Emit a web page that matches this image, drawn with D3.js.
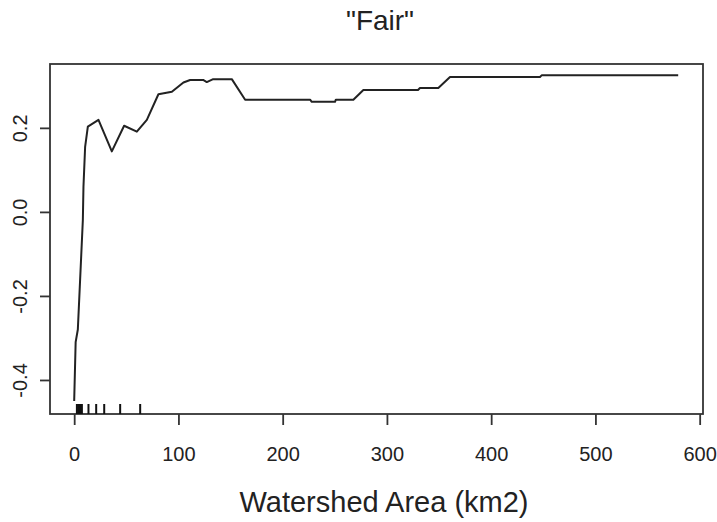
<!DOCTYPE html>
<html>
<head>
<meta charset="utf-8">
<script src="https://cdnjs.cloudflare.com/ajax/libs/d3/7.8.5/d3.min.js"></script>
<style>
  html, body { margin: 0; padding: 0; background: #fff; }
  svg { display: block; }
  text { font-family: "Liberation Sans", Arial, sans-serif; fill: #222; }
</style>
</head>
<body>
<script>
// ---- data ----
const areaX = [0, 1.4, 3.5, 8.3, 8.9, 10.5, 13.1, 23.3, 36.1, 47.9, 60.1, 69.7, 80.8, 93.7,
  104.8, 111.2, 123.7, 127.2, 133.3, 151.2, 164, 226.3, 227.9, 250.2, 251, 267.8, 277.4,
  329.8, 331.7, 349.3, 360.5, 446.8, 448.4, 579.4];
const effectY = [-0.45, -0.31, -0.28, -0.02, 0.06, 0.155, 0.203, 0.219, 0.144, 0.205, 0.191,
  0.219, 0.280, 0.286, 0.308, 0.314, 0.314, 0.309, 0.316, 0.316, 0.267, 0.267, 0.262, 0.262,
  0.267, 0.267, 0.290, 0.290, 0.295, 0.295, 0.321, 0.321, 0.325, 0.325];
const rugX = [2.6, 3.8, 5.0, 6.2, 7.4, 13.7, 21.1, 28.8, 44.1, 63.3];
const xTicks = [0, 100, 200, 300, 400, 500, 600];
const yTicks = [-0.4, -0.2, 0.0, 0.2];
const xDomain = [-23.2, 603.2];
const yDomain = [-0.481, 0.352];
const titleText = '"Fair"';
const xLabel = "Watershed Area (km2)";

// ---- layout ----
const W = 717, H = 522;
const box = { left: 50, right: 703, top: 64, bottom: 414 };

const svg = d3.select("body").append("svg").attr("width", W).attr("height", H);

const x = d3.scaleLinear().domain(xDomain).range([box.left, box.right]);
const y = d3.scaleLinear().domain(yDomain).range([box.bottom, box.top]);

// box
svg.append("rect")
  .attr("x", box.left).attr("y", box.top)
  .attr("width", box.right - box.left).attr("height", box.bottom - box.top)
  .attr("fill", "none").attr("stroke", "#333").attr("stroke-width", 1.8);

// x axis
const gx = svg.append("g")
  .attr("transform", `translate(0,${box.bottom})`)
  .call(d3.axisBottom(x).tickValues(xTicks).tickFormat(d3.format("d")).tickSize(11).tickPadding(22));
gx.select(".domain").remove();
gx.selectAll(".tick line").attr("stroke", "#333").attr("stroke-width", 1.8);
gx.selectAll(".tick text")
  .attr("font-size", 20).attr("font-family", "Liberation Sans, Arial, sans-serif").attr("fill", "#222");

// y axis
const gy = svg.append("g")
  .attr("transform", `translate(${box.left},0)`)
  .call(d3.axisLeft(y).tickValues(yTicks).tickFormat(d3.format(".1f")).tickSize(10));
gy.select(".domain").remove();
gy.selectAll(".tick line").attr("stroke", "#333").attr("stroke-width", 1.8);
gy.selectAll(".tick text")
  .attr("transform", "rotate(-90)")
  .attr("x", 0).attr("y", -23).attr("dy", 0)
  .attr("text-anchor", "middle")
  .attr("font-size", 20).attr("font-family", "Liberation Sans, Arial, sans-serif").attr("fill", "#222")
  .text(d => d3.format(".1f")(d).replace("−", "-"));

// rug
svg.append("g").selectAll("line").data(rugX).join("line")
  .attr("x1", d => x(d)).attr("x2", d => x(d))
  .attr("y1", box.bottom - 10).attr("y2", box.bottom)
  .attr("stroke", "#111").attr("stroke-width", 2);

// line
const pts = areaX.map((d, i) => [d, effectY[i]]);
svg.append("path")
  .datum(pts)
  .attr("fill", "none")
  .attr("stroke", "#222")
  .attr("stroke-width", 2)
  .attr("stroke-linejoin", "round")
  .attr("d", d3.line().x(d => x(d[0])).y(d => y(d[1])));

// title
svg.append("text")
  .attr("x", 380).attr("y", 30)
  .attr("text-anchor", "middle")
  .attr("font-size", 28)
  .text(titleText);

// x label
svg.append("text")
  .attr("x", 384).attr("y", 512)
  .attr("text-anchor", "middle")
  .attr("font-size", 29)
  .text(xLabel);
</script>
</body>
</html>
